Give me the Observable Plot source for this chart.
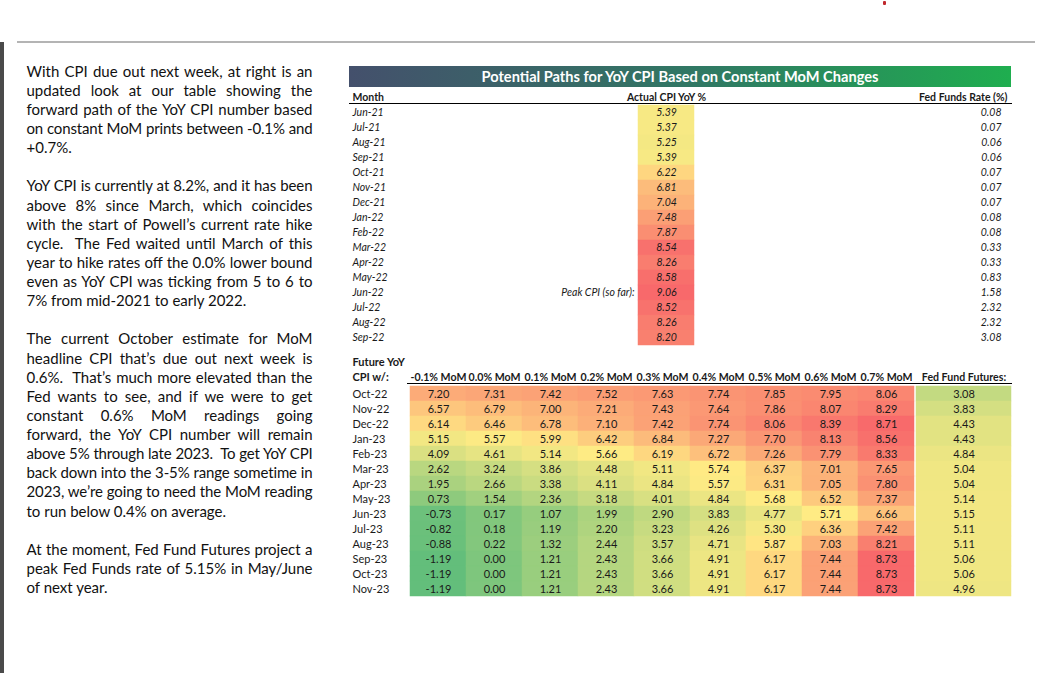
<!DOCTYPE html>
<html><head><meta charset="utf-8">
<script src="https://cdn.jsdelivr.net/npm/d3@7"></script>
<script src="https://cdn.jsdelivr.net/npm/@observablehq/plot@0.6"></script>
<style>
body{margin:0;background:#fff;width:1059px;height:673px;overflow:hidden;position:relative;font-family:Lato,"Open Sans",sans-serif;}
#leftbar{position:absolute;left:0;top:42px;width:4px;height:631px;background:#4a4a4a;}
#hr{position:absolute;left:17px;top:41px;width:1018px;height:1.5px;background:#b4b4b4;}
#dot{position:absolute;left:883px;top:1px;width:3px;height:4px;background:#c0282d;border-radius:1px;}
#text{position:absolute;left:26.5px;top:61.7px;width:286px;font-size:15px;line-height:19.13px;color:#111;}
.l{text-align:justify;text-align-last:justify;white-space:nowrap;}
.last{text-align:left;text-align-last:left;}
.gap{height:19.13px;}
#title{position:absolute;left:349px;top:66px;width:662px;height:21px;background:linear-gradient(90deg,#44506c 0%,#2f7a63 55%,#1fae4f 100%);color:#fff;font-weight:bold;font-size:14.6px;text-align:center;line-height:21px;}
.plot{position:absolute;}
</style></head>
<body>
<div id="leftbar"></div><div id="hr"></div><div id="dot"></div>
<div id="text">
<div class="l">With CPI due out next week, at right is an</div>
<div class="l">updated look at our table showing the</div>
<div class="l">forward path of the YoY CPI number based</div>
<div class="l">on constant MoM prints between -0.1% and</div>
<div class="l last">+0.7%.</div>
<div class="gap"></div>
<div class="l">YoY CPI is currently at 8.2%, and it has been</div>
<div class="l">above 8% since March, which coincides</div>
<div class="l">with the start of Powell’s current rate hike</div>
<div class="l">cycle.&nbsp; The Fed waited until March of this</div>
<div class="l">year to hike rates off the 0.0% lower bound</div>
<div class="l">even as YoY CPI was ticking from 5 to 6 to</div>
<div class="l last">7% from mid-2021 to early 2022.</div>
<div class="gap"></div>
<div class="l">The current October estimate for MoM</div>
<div class="l">headline CPI that’s due out next week is</div>
<div class="l">0.6%.&nbsp; That’s much more elevated than the</div>
<div class="l">Fed wants to see, and if we were to get</div>
<div class="l">constant 0.6% MoM readings going</div>
<div class="l">forward, the YoY CPI number will remain</div>
<div class="l">above 5% through late 2023.&nbsp; To get YoY CPI</div>
<div class="l">back down into the 3-5% range sometime in</div>
<div class="l">2023, we’re going to need the MoM reading</div>
<div class="l last">to run below 0.4% on average.</div>
<div class="gap"></div>
<div class="l">At the moment, Fed Fund Futures project a</div>
<div class="l">peak Fed Funds rate of 5.15% in May/June</div>
<div class="l last">of next year.</div>
</div>
<div id="title">Potential Paths for YoY CPI Based on Constant MoM Changes</div>
<div id="topLeft" class="plot" style="left:349px;top:88px"></div>
<div id="topRight" class="plot" style="left:916px;top:88px"></div>
<div id="botLeft" class="plot" style="left:349px;top:353px"></div>
<div id="botRight" class="plot" style="left:916px;top:353px"></div>
<script>
// ---- data ----
const topMonths = ["Jun-21","Jul-21","Aug-21","Sep-21","Oct-21","Nov-21","Dec-21","Jan-22","Feb-22","Mar-22","Apr-22","May-22","Jun-22","Jul-22","Aug-22","Sep-22"];
const actualCPI = [5.39,5.37,5.25,5.39,6.22,6.81,7.04,7.48,7.87,8.54,8.26,8.58,9.06,8.52,8.26,8.20];
const fedFundsRate = [0.08,0.07,0.06,0.06,0.07,0.07,0.07,0.08,0.08,0.33,0.33,0.83,1.58,2.32,2.32,3.08];

const futureMonths = ["Oct-22","Nov-22","Dec-22","Jan-23","Feb-23","Mar-23","Apr-23","May-23","Jun-23","Jul-23","Aug-23","Sep-23","Oct-23","Nov-23"];
const momScenarios = ["-0.1% MoM","0.0% MoM","0.1% MoM","0.2% MoM","0.3% MoM","0.4% MoM","0.5% MoM","0.6% MoM","0.7% MoM"];
const momMinus01 = [7.20,6.57,6.14,5.15,4.09,2.62,1.95,0.73,-0.73,-0.82,-0.88,-1.19,-1.19,-1.19];
const mom00 = [7.31,6.79,6.46,5.57,4.61,3.24,2.66,1.54,0.17,0.18,0.22,0.00,0.00,0.00];
const mom01 = [7.42,7.00,6.78,5.99,5.14,3.86,3.38,2.36,1.07,1.19,1.32,1.21,1.21,1.21];
const mom02 = [7.52,7.21,7.10,6.42,5.66,4.48,4.11,3.18,1.99,2.20,2.44,2.43,2.43,2.43];
const mom03 = [7.63,7.43,7.42,6.84,6.19,5.11,4.84,4.01,2.90,3.23,3.57,3.66,3.66,3.66];
const mom04 = [7.74,7.64,7.74,7.27,6.72,5.74,5.57,4.84,3.83,4.26,4.71,4.91,4.91,4.91];
const mom05 = [7.85,7.86,8.06,7.70,7.26,6.37,6.31,5.68,4.77,5.30,5.87,6.17,6.17,6.17];
const mom06 = [7.95,8.07,8.39,8.13,7.79,7.01,7.05,6.52,5.71,6.36,7.03,7.44,7.44,7.44];
const mom07 = [8.06,8.29,8.71,8.56,8.33,7.65,7.80,7.37,6.66,7.42,8.21,8.73,8.73,8.73];
const fedFundFutures = [3.08,3.83,4.43,4.43,4.84,5.04,5.04,5.14,5.15,5.11,5.11,5.06,5.06,4.96];

// ---- tables built from the arrays ----
const momSeries = [momMinus01,mom00,mom01,mom02,mom03,mom04,mom05,mom06,mom07];
const topRows = topMonths.map((m,i)=>({month:m,cpi:actualCPI[i],ffr:fedFundsRate[i]}));
const grid = [];
momSeries.forEach((arr,j)=>arr.forEach((v,i)=>grid.push({month:futureMonths[i],scenario:momScenarios[j],value:v})));
const futRows = futureMonths.map((m,i)=>({month:m,fut:fedFundFutures[i]}));

const vals = grid.map(d=>d.value);
const colorScale = {type:"linear",domain:[d3.min(vals),d3.quantile(vals,0.5),d3.max(vals)],
  range:["#63be7b","#ffeb84","#f8696b"],interpolate:"rgb",clamp:true};
const font = {fontFamily:"Lato, 'Open Sans', sans-serif",fontSize:"10.5px",color:"#1a1a1a",background:"transparent",overflow:"visible"};
const fmt = v=>v.toFixed(2);
const cpiKey = "Actual CPI YoY %";
const peak = d3.max(actualCPI);

// top-left: month list and actual CPI column
document.getElementById("topLeft").append(Plot.plot({
  width:567,height:259,marginTop:15,marginBottom:0,marginLeft:0,marginRight:0,
  style:{...font,fontSize:"10.5px"},
  x:{type:"band",domain:[cpiKey],range:[289,345],padding:0},
  y:{type:"band",domain:topMonths,padding:0,axis:null},
  color:colorScale,
  marks:[
    Plot.cell(topRows,{x:()=>cpiKey,y:"month",fill:"cpi",stroke:"cpi",strokeWidth:0.5,inset:0}),
    Plot.text(topRows,{x:()=>cpiKey,y:"month",text:d=>fmt(d.cpi),fontStyle:"italic"}),
    Plot.text(topRows,{y:"month",text:"month",frameAnchor:"left",textAnchor:"start",dx:3,fontStyle:"italic"}),
    Plot.text(topRows.filter(d=>d.cpi===peak),{x:()=>cpiKey,y:"month",text:()=>"Peak CPI (so far):",textAnchor:"end",dx:-32,fontStyle:"italic"}),
    Plot.axisX({anchor:"top",tickSize:0,tickPadding:3,label:null,fontWeight:"bold"}),
    Plot.text(["Month"],{frameAnchor:"top-left",textAnchor:"start",lineAnchor:"bottom",dx:3,dy:-3,fontWeight:"bold"}),
    Plot.frame({anchor:"top",stroke:"#000",strokeWidth:1})
  ]
}));

// top-right: Fed Funds Rate
document.getElementById("topRight").append(Plot.plot({
  width:95,height:259,marginTop:15,marginBottom:0,marginLeft:0,marginRight:0,
  style:{...font,fontSize:"10.5px"},
  y:{type:"band",domain:topMonths,padding:0,axis:null},
  marks:[
    Plot.text(topRows,{y:"month",text:d=>fmt(d.ffr),fontStyle:"italic",frameAnchor:"right",textAnchor:"end",dx:-10}),
    Plot.text(["Fed Funds Rate (%)"],{frameAnchor:"top-right",textAnchor:"end",lineAnchor:"bottom",dx:-4,dy:-3,fontWeight:"bold"}),
    Plot.frame({anchor:"top",stroke:"#000",strokeWidth:1})
  ]
}));

// bottom-left: scenario grid
document.getElementById("botLeft").append(Plot.plot({
  width:567,height:245,marginTop:30,marginBottom:0,marginLeft:58,marginRight:0,
  style:{...font,fontSize:"11px"},
  x:{type:"band",domain:momScenarios,padding:0},
  y:{type:"band",domain:futureMonths,padding:0,axis:null},
  color:colorScale,
  marks:[
    Plot.cell(grid,{x:"scenario",y:"month",fill:"value",stroke:"value",strokeWidth:0.5,inset:0}),
    Plot.text(grid,{x:"scenario",y:"month",text:d=>fmt(d.value)}),
    Plot.text(futureMonths,{y:d=>d,text:d=>d,frameAnchor:"left",textAnchor:"start",dx:-55}),
    Plot.axisX({anchor:"top",tickSize:0,tickPadding:3,label:null,fontWeight:"bold",fontSize:"10.6px"}),
    Plot.text(["CPI w/:"],{frameAnchor:"top-left",textAnchor:"start",lineAnchor:"bottom",dx:-55,dy:-3,fontWeight:"bold"}),
    Plot.text(["Future YoY"],{frameAnchor:"top-left",textAnchor:"start",lineAnchor:"bottom",dx:-55,dy:-18,fontWeight:"bold"}),
    Plot.frame({anchor:"top",stroke:"#000",strokeWidth:1})
  ]
}));

// bottom-right: Fed Fund Futures
document.getElementById("botRight").append(Plot.plot({
  width:95,height:245,marginTop:30,marginBottom:0,marginLeft:0,marginRight:0,
  style:{...font,fontSize:"11px"},
  y:{type:"band",domain:futureMonths,padding:0,axis:null},
  color:colorScale,
  marks:[
    Plot.cell(futRows,{y:"month",fill:"fut",stroke:"fut",strokeWidth:0.5,inset:0}),
    Plot.text(futRows,{y:"month",text:d=>fmt(d.fut)}),
    Plot.text(["Fed Fund Futures:"],{frameAnchor:"top",lineAnchor:"bottom",dy:-3,fontWeight:"bold",fontSize:"10.6px"}),
    Plot.frame({anchor:"top",stroke:"#000",strokeWidth:1})
  ]
}));

// fit any over-long justified text line
const ctx = document.createElement("canvas").getContext("2d");
document.querySelectorAll("#text .l").forEach(el=>{
  const cs = getComputedStyle(el);
  ctx.font = `${cs.fontSize} ${cs.fontFamily}`;
  const w = ctx.measureText(el.textContent).width;
  if (w > 285) el.style.letterSpacing = ((285 - w)/el.textContent.length).toFixed(3)+"px";
});
</script>
</body></html>
